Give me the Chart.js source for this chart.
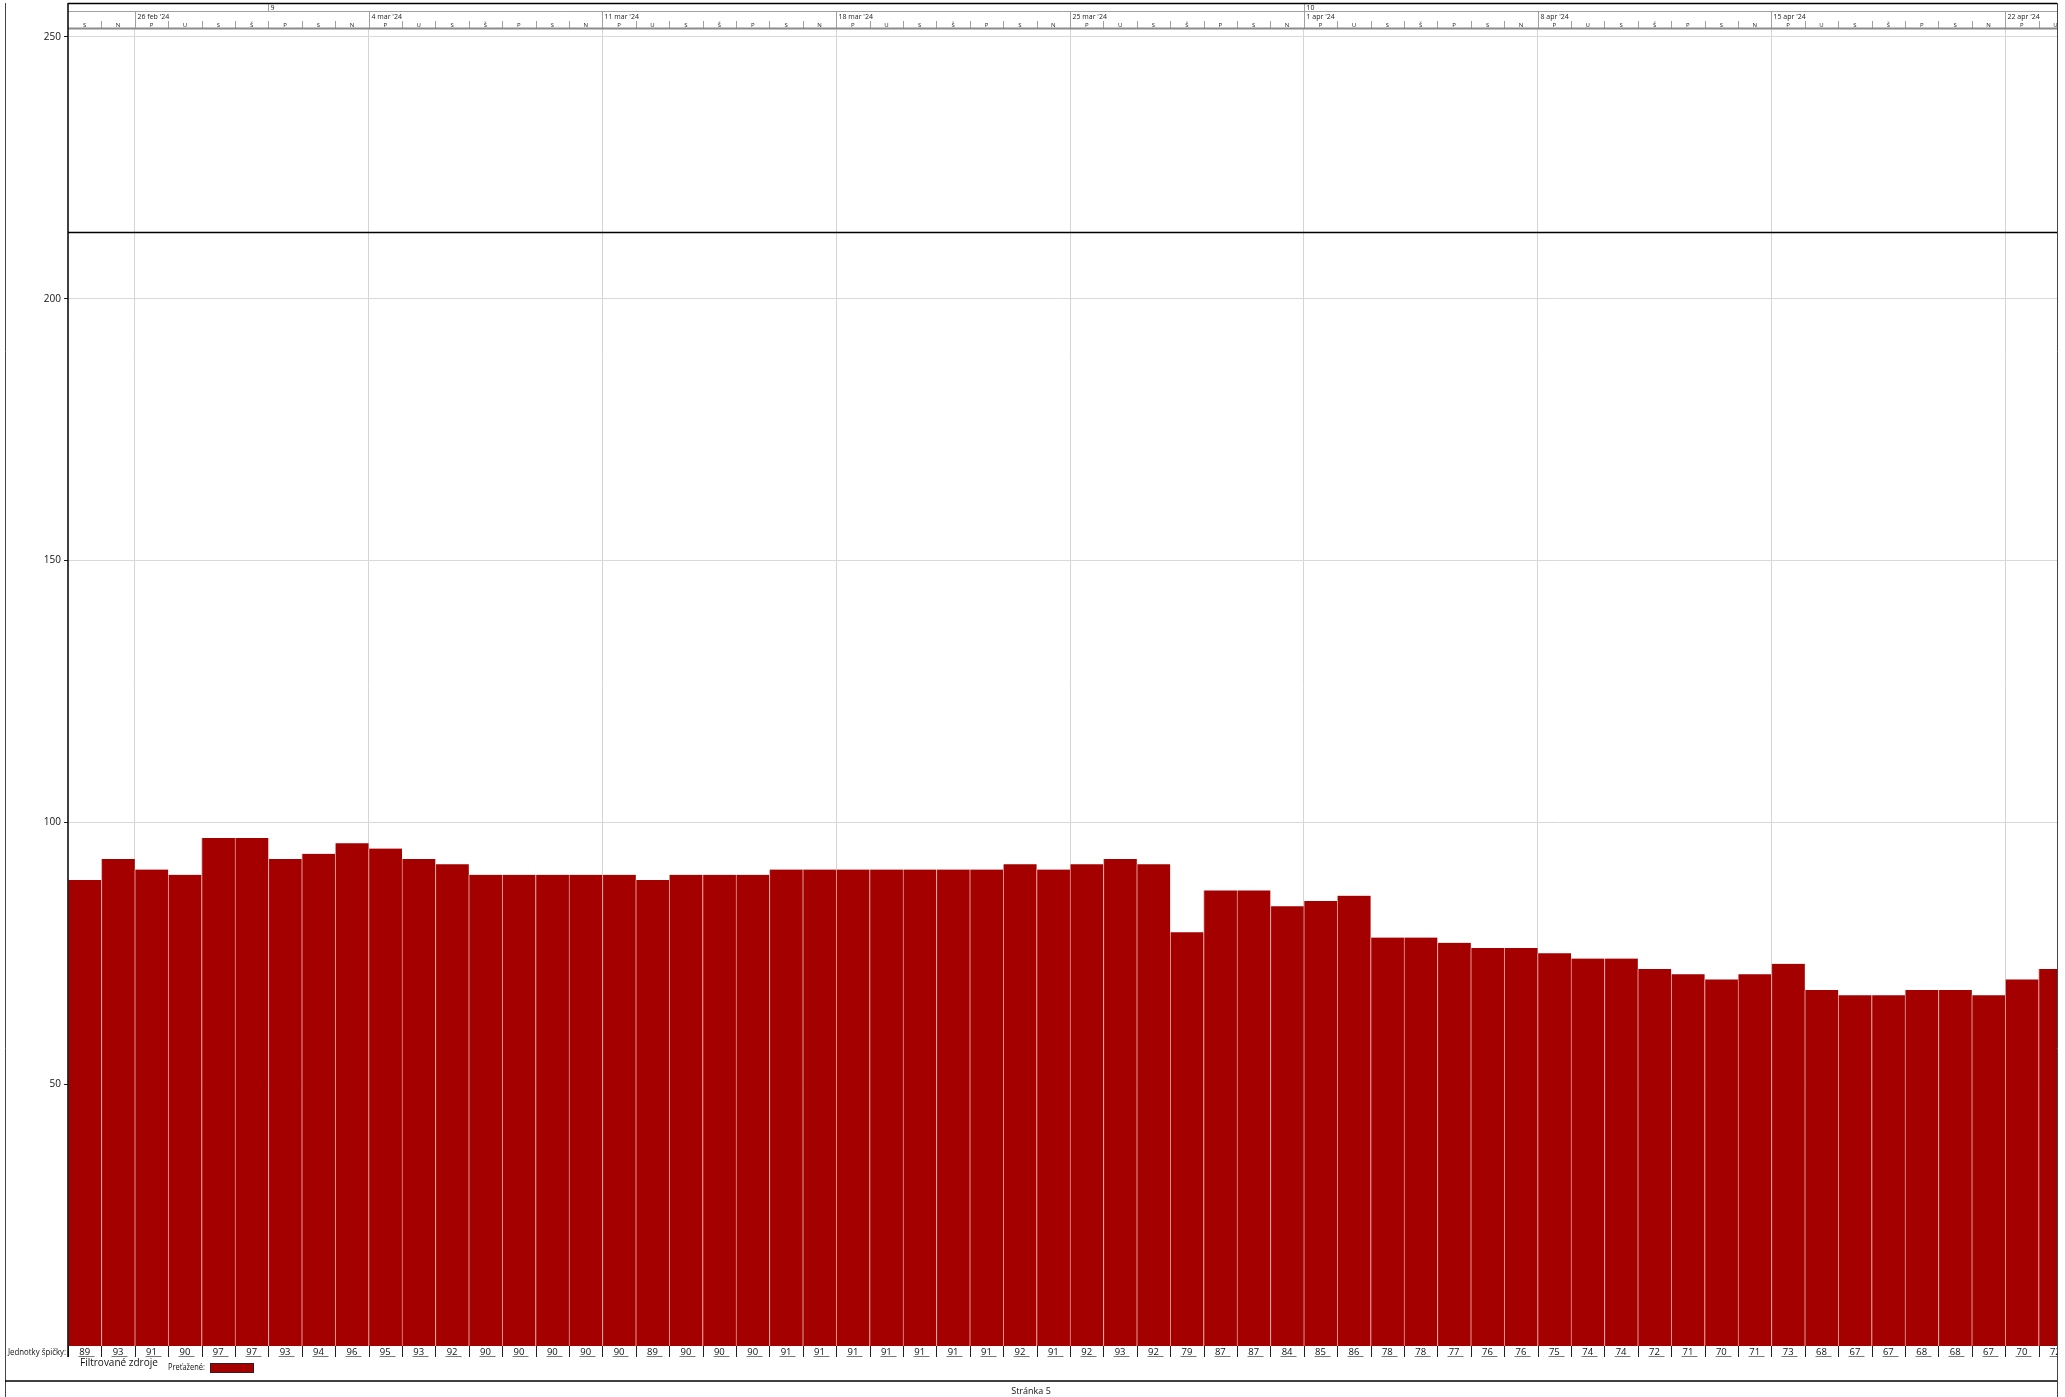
<!DOCTYPE html>
<html>
<head>
<meta charset="utf-8">
<script src="https://cdn.jsdelivr.net/npm/chart.js@4/dist/chart.umd.min.js"></script>
<style>
  html, body { margin: 0; padding: 0; background: #fff; }
  canvas { display: block; }
</style>
</head>
<body>
<canvas id="myChart" width="2065" height="1397"></canvas>
<script>
// peak units per day, 24 feb '24 .. 23 apr '24
const peakUnits = [89, 93, 91, 90, 97, 97, 93, 94, 96, 95, 93, 92, 90, 90, 90, 90, 90, 89, 90, 90,
  90, 91, 91, 91, 91, 91, 91, 91, 92, 91, 92, 93, 92, 79, 87, 87, 84, 85, 86, 78,
  78, 77, 76, 76, 75, 74, 74, 72, 71, 70, 71, 73, 68, 67, 67, 68, 68, 67, 70, 72];
const weekDays = ['P', 'U', 'S', 'Š', 'P', 'S', 'N'];
const firstWeekDay = 5; // first column is a Saturday
const weekLabels = ["26 feb '24", "4 mar '24", "11 mar '24", "18 mar '24", "25 mar '24",
  "1 apr '24", "8 apr '24", "15 apr '24", "22 apr '24"];
const weekStarts = [2, 9, 16, 23, 30, 37, 44, 51, 58];
const monthLabels = ['9', '10'];
const monthStarts = [6, 37];
const yTicks = [50, 100, 150, 200, 250];
const breakLineValue = 212.7;

const barColor = '#a50000';
const fontName = '"Open Sans", "DejaVu Sans", sans-serif';

const points = [];
for (let i = 0; i < peakUnits.length; i++) {
  points.push({ x: i + 0.5, y: peakUnits[i] });
}

const sheet = {
  id: 'sheet',
  afterDraw(chart) {
    const ctx = chart.ctx;
    const xs = chart.scales.x;
    const ys = chart.scales.y;
    const area = chart.chartArea;
    const L = area.left, R = area.right;
    const px = v => xs.getPixelForValue(v);

    ctx.save();
    ctx.beginPath();
    ctx.rect(L, 0, R - L, chart.height);
    ctx.clip();

    // header background
    ctx.fillStyle = '#fff';
    ctx.fillRect(L, 3, R - L, area.top - 3);

    // top tier (months)
    ctx.strokeStyle = '#a0a0a0';
    ctx.lineWidth = 1;
    ctx.beginPath();
    ctx.moveTo(L, 11.5); ctx.lineTo(R, 11.5);
    ctx.stroke();
    ctx.fillStyle = '#222';
    ctx.font = '7px ' + fontName;
    ctx.textBaseline = 'middle';
    ctx.textAlign = 'left';
    for (let i = 0; i < monthStarts.length; i++) {
      const x = Math.round(px(monthStarts[i])) + 0.5;
      ctx.beginPath(); ctx.moveTo(x, 3); ctx.lineTo(x, 11.5); ctx.stroke();
      ctx.fillText(monthLabels[i], x + 2, 8);
    }

    // middle tier (weeks + days)
    for (let i = 0; i < weekStarts.length; i++) {
      const x = Math.round(px(weekStarts[i])) + 0.5;
      ctx.beginPath(); ctx.moveTo(x, 11.5); ctx.lineTo(x, 28); ctx.stroke();
      ctx.fillText(weekLabels[i], x + 2, 17);
    }
    ctx.font = '6px ' + fontName;
    ctx.textAlign = 'center';
    for (let i = 0; i < peakUnits.length; i++) {
      const x0 = Math.round(px(i)) + 0.5;
      if (i > 0 && !weekStarts.includes(i)) {
        ctx.beginPath(); ctx.moveTo(x0, 21); ctx.lineTo(x0, 28); ctx.stroke();
      }
      ctx.fillText(weekDays[(i + firstWeekDay) % 7], px(i + 0.5), 25.5);
    }
    ctx.strokeStyle = '#8c8c8c';
    ctx.lineWidth = 2;
    ctx.beginPath(); ctx.moveTo(L, 28.5); ctx.lineTo(R, 28.5); ctx.stroke();

    // break line across the graph
    ctx.strokeStyle = '#000';
    ctx.lineWidth = 1.3;
    const yb = Math.round(ys.getPixelForValue(breakLineValue)) + 0.5;
    ctx.beginPath(); ctx.moveTo(L, yb); ctx.lineTo(R, yb); ctx.stroke();

    // value row
    const rowTop = area.bottom, rowBot = area.bottom + 11;
    ctx.font = '9.5px ' + fontName;
    ctx.fillStyle = '#111';
    ctx.textAlign = 'center';
    ctx.lineWidth = 1;
    for (let i = 0; i < peakUnits.length; i++) {
      const x0 = Math.round(px(i)) + 0.5;
      ctx.strokeStyle = '#222';
      ctx.beginPath(); ctx.moveTo(x0, rowTop); ctx.lineTo(x0, rowBot); ctx.stroke();
      ctx.strokeStyle = '#777';
      ctx.beginPath(); ctx.moveTo(x0 + 10, rowBot - 0.5); ctx.lineTo(x0 + 26, rowBot - 0.5); ctx.stroke();
      ctx.fillText(String(peakUnits[i]), px(i + 0.5), rowTop + 6);
    }
    ctx.restore();

    ctx.save();
    // frame
    ctx.strokeStyle = '#000';
    ctx.lineWidth = 1.5;
    ctx.beginPath();
    ctx.moveTo(L, 3.5); ctx.lineTo(R, 3.5);
    ctx.moveTo(L, 3); ctx.lineTo(L, area.bottom + 11);
    ctx.stroke();
    ctx.strokeStyle = '#444';
    ctx.lineWidth = 1;
    ctx.beginPath();
    ctx.moveTo(5.5, 3); ctx.lineTo(5.5, chart.height);
    ctx.moveTo(R + 0.5, 3); ctx.lineTo(R + 0.5, chart.height);
    ctx.stroke();
    ctx.strokeStyle = '#000';
    ctx.lineWidth = 1.5;
    ctx.beginPath(); ctx.moveTo(5, 1381); ctx.lineTo(R, 1381); ctx.stroke();

    // row label, legend, footer
    ctx.fillStyle = '#111';
    ctx.textBaseline = 'middle';
    ctx.textAlign = 'right';
    ctx.font = '9.5px ' + fontName;
    ctx.fillText('Jednotky špičky:', L - 2, area.bottom + 6, 58);
    ctx.textAlign = 'left';
    ctx.font = '10px ' + fontName;
    ctx.fillText('Filtrované zdroje', 80, 1363, 104);
    ctx.font = '8.5px ' + fontName;
    ctx.fillText('Preťažené:', 168, 1368, 37);
    ctx.fillStyle = barColor;
    ctx.fillRect(210, 1363, 44, 10);
    ctx.strokeStyle = '#222';
    ctx.lineWidth = 0.8;
    ctx.strokeRect(210.5, 1363.5, 43, 9);
    ctx.fillStyle = '#111';
    ctx.textAlign = 'center';
    ctx.font = '9px ' + fontName;
    ctx.fillText('Stránka 5', 1031, 1391);
    ctx.restore();
  }
};

const ctx = document.getElementById('myChart').getContext('2d');
const myChart = new Chart(ctx, {
  type: 'bar',
  data: {
    datasets: [{
      label: 'Preťažené',
      data: points,
      backgroundColor: barColor,
      borderColor: '#e6a0a0',
      borderWidth: { left: 1, right: 0, top: 0, bottom: 0 },
      borderSkipped: false,
      barPercentage: 1.0,
      categoryPercentage: 1.0
    }]
  },
  options: {
    responsive: false,
    animation: false,
    layout: { padding: { left: 0, top: 29, right: 8, bottom: 51 } },
    plugins: {
      legend: { display: false },
      tooltip: { enabled: false },
      title: { display: false }
    },
    scales: {
      x: {
        type: 'linear',
        min: 0,
        max: 59.55,
        offset: false,
        grid: { offset: false, color: '#d4d4d4', drawTicks: false },
        border: { display: false },
        ticks: { display: false },
        afterBuildTicks: s => { s.ticks = weekStarts.map(v => ({ value: v })); },
        afterFit: s => { s.height = 0; }
      },
      y: {
        min: 0,
        max: 251.5,
        grid: { color: '#d9d9d9', tickColor: '#222', tickLength: 4 },
        border: { display: false },
        ticks: {
          color: '#111',
          padding: 3,
          font: { family: fontName, size: 10 },
          callback: v => v
        },
        afterBuildTicks: s => { s.ticks = yTicks.map(v => ({ value: v })); },
        afterFit: s => { s.width = 68; }
      }
    }
  },
  plugins: [sheet]
});
</script>
</body>
</html>
